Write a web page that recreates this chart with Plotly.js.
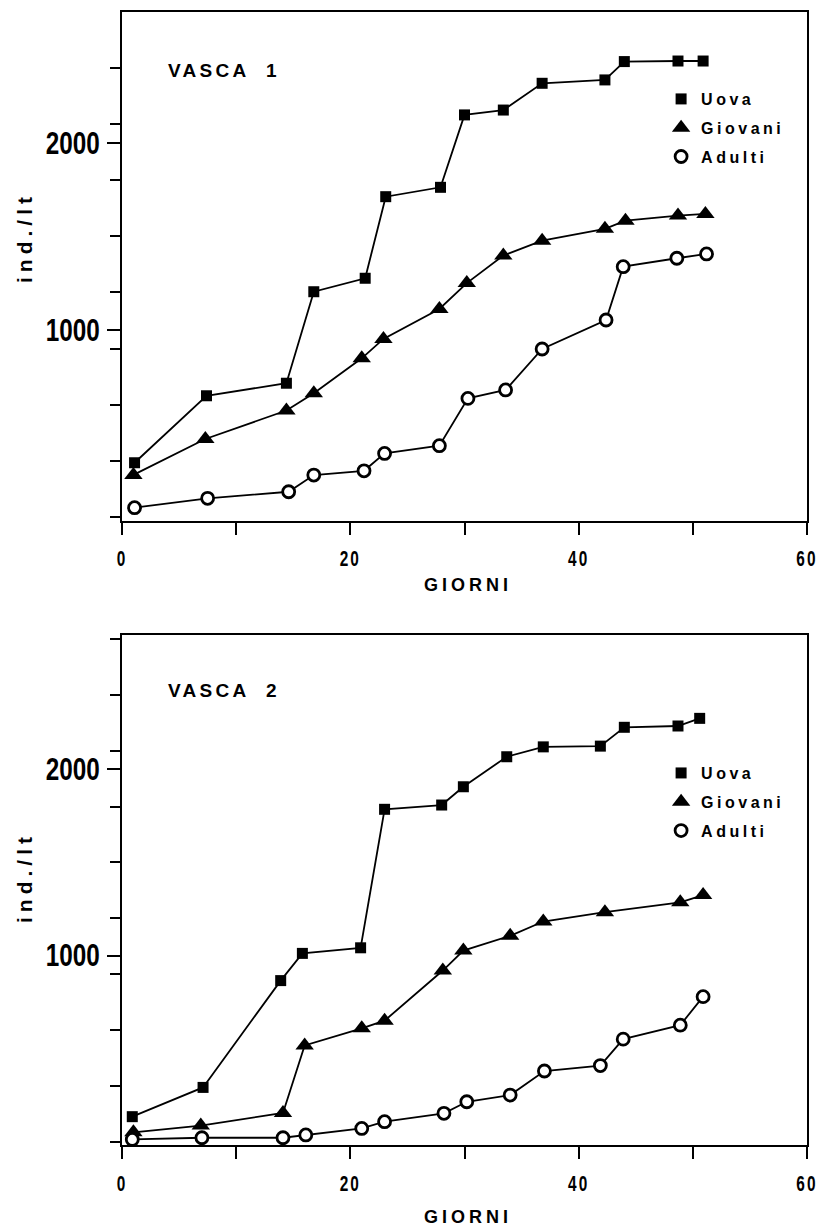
<!DOCTYPE html>
<html><head><meta charset="utf-8">
<script src="https://cdn.plot.ly/plotly-3.0.1.min.js"></script>
<style>
html,body{margin:0;padding:0;background:#fff;}
#chart{width:820px;height:1231px;}
text.legendtext, text.legend2text{letter-spacing:3.5px;}
.xtick text, .x2tick text{letter-spacing:3px;}
text.annotation-text{letter-spacing:3.3px;}
text.annotation-text[data-unformatted="ind./lt"]{letter-spacing:5px;}
text.annotation-text[data-unformatted="GIORNI"]{letter-spacing:4px;}
</style></head><body><div id="chart"></div><script>
// ---- Data ----
const v1UovaGiorni    = [1.1, 7.4, 14.4, 16.8, 21.3, 23.1, 27.9, 30.0, 33.4, 36.8, 42.3, 44.0, 48.7, 50.9];
const v1Uova          = [290, 648, 715, 1204, 1276, 1712, 1762, 2149, 2175, 2318, 2336, 2434, 2437, 2437];
const v1GiovaniGiorni = [1.0, 7.3, 14.4, 16.8, 21.0, 22.9, 27.8, 30.2, 33.4, 36.8, 42.3, 44.1, 48.7, 51.1];
const v1Giovani       = [225, 417, 569, 661, 848, 952, 1112, 1250, 1397, 1477, 1540, 1584, 1611, 1620];
const v1AdultiGiorni  = [1.1, 7.5, 14.6, 16.8, 21.2, 23.0, 27.8, 30.3, 33.6, 36.8, 42.4, 43.9, 48.6, 51.2];
const v1Adulti        = [50, 100, 135, 224, 247, 340, 381, 634, 679, 898, 1053, 1338, 1383, 1406];

const v2UovaGiorni    = [0.9, 7.1, 13.9, 15.8, 20.9, 23.0, 28.0, 29.9, 33.7, 36.9, 41.9, 44.0, 48.7, 50.6];
const v2Uova          = [136, 293, 866, 1012, 1042, 1785, 1808, 1906, 2067, 2120, 2124, 2225, 2232, 2273];
const v2GiovaniGiorni = [1.0, 6.9, 14.1, 16.0, 21.0, 23.0, 28.1, 29.9, 34.0, 36.9, 42.3, 48.9, 50.9];
const v2Giovani       = [52, 88, 156, 518, 610, 651, 920, 1027, 1106, 1183, 1233, 1286, 1325];
const v2AdultiGiorni  = [0.9, 7.0, 14.1, 16.1, 21.0, 23.0, 28.2, 30.2, 34.0, 37.0, 41.9, 43.9, 48.9, 50.9];
const v2Adulti        = [14, 23, 23, 38, 73, 109, 154, 216, 252, 381, 410, 552, 627, 780];

const seriesNames = ['Uova', 'Giovani', 'Adulti'];
const panelTitles = ['VASCA  1', 'VASCA  2'];
const xTitle = 'GIORNI';
const yTitle = 'ind./lt';
const xTickVals = [0, 20, 40, 60];
const xTickText = ['0', '20', '40', '60'];
const yTickVals = [1000, 2000];
const yTickText = ['1000', '2000'];

// ---- Styles ----
const textFont = "'Liberation Sans', Arial, Helvetica, sans-serif";
const sym = {
  Uova:    {symbol: 'square', size: 11, color: '#000', line: {width: 0}},
  Giovani: {symbol: 'triangle-up', size: 16, color: '#000', line: {width: 0}},
  Adulti:  {symbol: 'circle', size: 12, color: '#fff', line: {width: 2.8, color: '#000'}}
};
const lineStyle = {color: '#000', width: 1.8};

function dataTrace(x, y, name, xa, ya) {
  return {x: x, y: y, name: name, type: 'scatter', mode: 'lines+markers',
    xaxis: xa, yaxis: ya, line: lineStyle, marker: sym[name], showlegend: false,
    cliponaxis: false};
}
function legendTrace(name, xa, ya, legendId, grp) {
  return {x: [null], y: [null], name: name, type: 'scatter', mode: 'markers',
    xaxis: xa, yaxis: ya, marker: sym[name], showlegend: true, legend: legendId,
    legendgroup: grp + name};
}

const traces = [
  dataTrace(v1UovaGiorni, v1Uova, 'Uova', 'x', 'y'),
  dataTrace(v1GiovaniGiorni, v1Giovani, 'Giovani', 'x', 'y'),
  dataTrace(v1AdultiGiorni, v1Adulti, 'Adulti', 'x', 'y'),
  dataTrace(v2UovaGiorni, v2Uova, 'Uova', 'x2', 'y2'),
  dataTrace(v2GiovaniGiorni, v2Giovani, 'Giovani', 'x2', 'y2'),
  dataTrace(v2AdultiGiorni, v2Adulti, 'Adulti', 'x2', 'y2')
];
seriesNames.forEach(n => traces.push(legendTrace(n, 'x', 'y', 'legend', 'a')));
seriesNames.forEach(n => traces.push(legendTrace(n, 'x2', 'y2', 'legend2', 'b')));

function xAxis(anchor, standoff) {
  return {anchor: anchor, domain: [0, 1], range: [0, 60], tickmode: 'array',
    tickvals: xTickVals, ticktext: xTickText, ticks: 'outside', ticklen: 12, tickwidth: 2,
    tickcolor: '#000', ticklabelstandoff: standoff, ticklabeloverflow: 'allow',
    showline: true, linecolor: '#000', linewidth: 2, mirror: true,
    showgrid: false, zeroline: false, fixedrange: true,
    minor: {tick0: 0, dtick: 10, ticks: 'outside', ticklen: 12, tickwidth: 2, tickcolor: '#000', showgrid: false},
    tickfont: {family: textFont, size: 22, color: '#000', weight: 'bold'}};
}
function yAxis(anchor, domain, range) {
  return {anchor: anchor, domain: domain, range: range, tickmode: 'array',
    tickvals: yTickVals, ticktext: yTickText, ticks: 'outside', ticklen: 13, tickwidth: 2,
    tickcolor: '#000', ticklabelstandoff: 1, ticklabeloverflow: 'allow',
    showline: true, linecolor: '#000', linewidth: 2, mirror: true,
    showgrid: false, zeroline: false, fixedrange: true,
    minor: {tick0: 0, dtick: 300, ticks: 'outside', ticklen: 10, tickwidth: 2, tickcolor: '#000', showgrid: false},
    tickfont: {family: textFont, size: 31, color: '#000', weight: 'bold'}};
}

const legendBase = {xanchor: 'left', yanchor: 'top', bgcolor: 'rgba(0,0,0,0)', borderwidth: 0,
  tracegroupgap: 5, font: {family: textFont, size: 16, color: '#000', weight: 'bold'}};

function ann(text, x, y, size, opts) {
  return Object.assign({text: text, xref: 'paper', yref: 'paper', x: x, y: y, showarrow: false,
    xanchor: 'center', yanchor: 'middle',
    font: {family: textFont, size: size, color: '#000', weight: 'bold'}}, opts || {});
}

const layout = {
  width: 820, height: 1231,
  margin: {l: 122, r: 13, t: 12, b: 86},
  paper_bgcolor: '#fff', plot_bgcolor: '#fff',
  xaxis: xAxis('y', 5),
  yaxis: yAxis('x', [0.5508, 1], [-21, 2699]),
  xaxis2: xAxis('y2', 6),
  yaxis2: yAxis('x2', [0, 0.4501], [-16, 2720]),
  legend: Object.assign({x: 0.787, y: 0.9382}, legendBase),
  legend2: Object.assign({x: 0.787, y: 0.3433}, legendBase),
  annotations: [
    ann(panelTitles[0], 0.064, 0.9488, 19, {xanchor: 'left'}),
    ann(panelTitles[1], 0.064, 0.4011, 19, {xanchor: 'left'}),
    ann(yTitle, -0.1431, 0.8014, 21, {textangle: -90}),
    ann(yTitle, -0.1431, 0.2365, 21, {textangle: -90}),
    ann(xTitle, 0.505, 0.4943, 18),
    ann(xTitle, 0.505, -0.0636, 18)
  ]
};

function squeeze(t, s, shift) {
  // horizontal condensing of a tick numeral around its own anchor point
  var x = parseFloat(t.getAttribute('x')) || 0;
  var tr = t.getAttribute('transform') || '';
  t.setAttribute('transform', tr + ' translate(' + (x + shift) + ',0) scale(' + s + ',1) translate(' + (-x) + ',0)');
}

Plotly.newPlot('chart', traces, layout, {staticPlot: true, displayModeBar: false}).then(function (gd) {
  gd.querySelectorAll('.ytick text, .y2tick text').forEach(function (t) {
    t.setAttribute('textLength', String(13.5 * t.textContent.length));
    t.setAttribute('lengthAdjust', 'spacingAndGlyphs');
  });
  gd.querySelectorAll('.xtick text, .x2tick text').forEach(function (t) {
    squeeze(t, 0.7, 0);
  });
});
</script></body></html>
